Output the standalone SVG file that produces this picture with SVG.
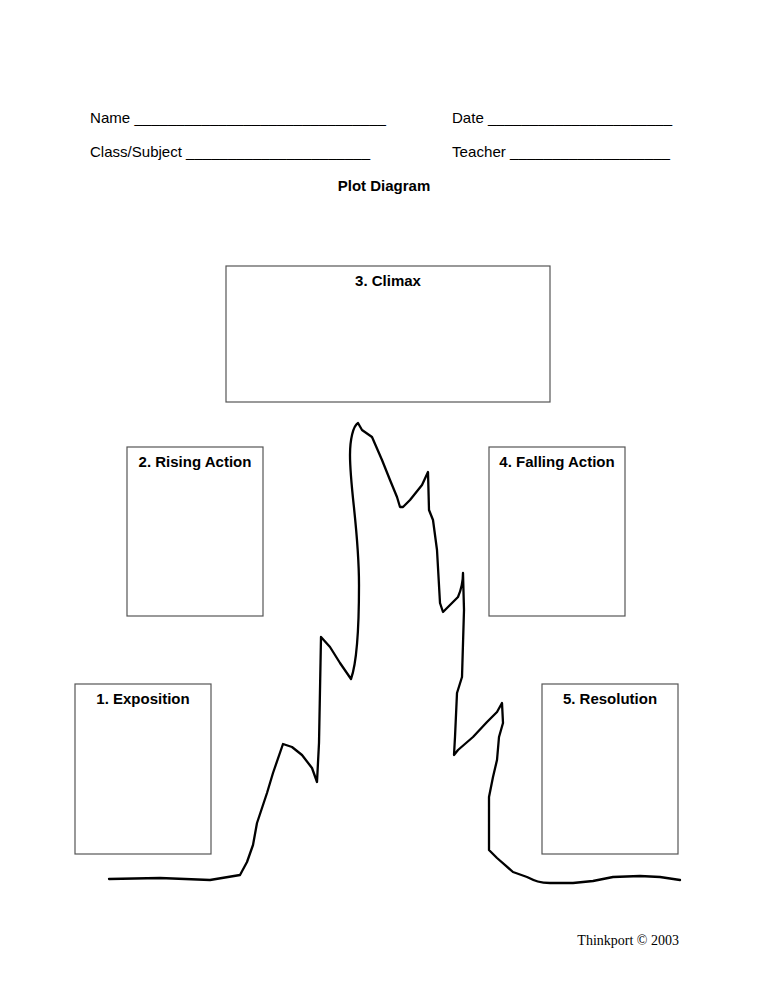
<svg xmlns="http://www.w3.org/2000/svg" width="768" height="994" viewBox="0 0 768 994">
<style>
.hdr{font-family:"Liberation Sans",Arial,sans-serif;font-size:15px;fill:#000}
.lbl{font-family:"Liberation Sans",Arial,sans-serif;font-size:15px;font-weight:bold;fill:#000;text-anchor:middle}
.box{fill:#fff;stroke:#555;stroke-width:1.2}
.curve{fill:none;stroke:#000;stroke-width:2.3;stroke-linejoin:round;stroke-linecap:round}
</style>
<rect width="768" height="994" fill="#fff"/>
<g id="header">
<text class="hdr" x="90" y="123" textLength="296" lengthAdjust="spacingAndGlyphs">Name ______________________________</text>
<text class="hdr" x="452" y="123" textLength="220" lengthAdjust="spacingAndGlyphs">Date ______________________</text>
<text class="hdr" x="90" y="157" textLength="280" lengthAdjust="spacingAndGlyphs">Class/Subject ______________________</text>
<text class="hdr" x="452" y="157" textLength="218" lengthAdjust="spacingAndGlyphs">Teacher ___________________</text>
<text class="lbl" x="384" y="191">Plot Diagram</text>
</g>
<g id="plot-line">
<path class="curve" d="M109,879 L160,878 L210,880 L240,875 L247,862 L253,845 L257,823 L262,808 L267,793 L273,773 L283,744 L292,747 L302,755 L312,768 L317,782 L319,743 L321,637 L330,647 L340,663 L351,679 C356,665 359,630 359,585 C359,530 350,490 350,455 C350,440 353,426 358,423 L362,430 L372,437 L382,460 L390,480 L397,497 L400,507 L403,507 L410,500 L422,485 L428,472 L429,510 L433,520 L437,550 L440,603 L443,612 L448,607 L458,597 C461,590 463,580 463,573 L464,610 L462,677 L457,693 L455,737 L454,755 L458,750 L473,737 L487,722 L497,712 L502,703 L503,723 L499,737 L497,760 L493,777 L489,797 L489,850 L497,858 L513,872 L527,877 C535,881 540,883 550,883 L573,883 L593,881 L613,877 L640,876 L660,877 L680,880"/>
</g>
<g id="climax">
<rect class="box" x="226" y="266" width="324" height="136"/>
<text class="lbl" x="388" y="286">3. Climax</text>
</g>
<g id="rising-action">
<rect class="box" x="127" y="447" width="136" height="169"/>
<text class="lbl" x="195" y="467">2. Rising Action</text>
</g>
<g id="falling-action">
<rect class="box" x="489" y="447" width="136" height="169"/>
<text class="lbl" x="557" y="467">4. Falling Action</text>
</g>
<g id="exposition">
<rect class="box" x="75" y="684" width="136" height="170"/>
<text class="lbl" x="143" y="704">1. Exposition</text>
</g>
<g id="resolution">
<rect class="box" x="542" y="684" width="136" height="170"/>
<text class="lbl" x="610" y="704">5. Resolution</text>
</g>
<text x="679" y="945" font-family="'Liberation Serif','Times New Roman',serif" font-size="14" text-anchor="end" fill="#000">Thinkport © 2003</text>
</svg>
